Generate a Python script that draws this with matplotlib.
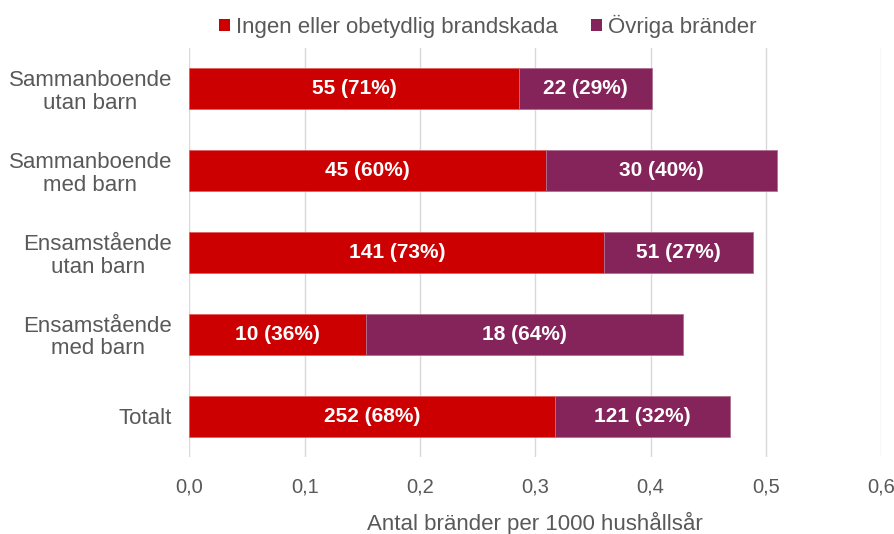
import matplotlib
matplotlib.use("Agg")
import matplotlib.pyplot as plt
from matplotlib.patches import Patch

categories = ["Sammanboende\nutan barn", "Sammanboende\nmed barn", "Ensamstående\nutan barn",
              "Ensamstående\nmed barn", "Totalt"]
minor_vals = [0.286, 0.309, 0.360, 0.153, 0.317]
other_vals = [0.115, 0.201, 0.129, 0.275, 0.152]
minor_labels = ["55 (71%)", "45 (60%)", "141 (73%)", "10 (36%)", "252 (68%)"]
other_labels = ["22 (29%)", "30 (40%)", "51 (27%)", "18 (64%)", "121 (32%)"]
series_names = ["Ingen eller obetydlig brandskada", "Övriga bränder"]
xticks = [0.0, 0.1, 0.2, 0.3, 0.4, 0.5, 0.6]
xlabel = "Antal bränder per 1000 hushållsår"

red = "#CC0000"
purple = "#85245A"
grey = "#595959"

plt.rcParams['font.family'] = ['Liberation Sans', 'DejaVu Sans']

fig = plt.figure(figsize=(8.95, 5.34), dpi=100)
ax = fig.add_axes([0.2117, 0.1442, 0.9844 - 0.2117, 0.9101 - 0.1442])

y = list(range(len(categories)))
b1 = ax.barh(y, minor_vals, height=0.5, color=red, edgecolor="#E06060", linewidth=0.6, zorder=3)
b2 = ax.barh(y, other_vals, left=minor_vals, height=0.5, color=purple, edgecolor="#B07090",
             linewidth=0.6, zorder=3)
ax.bar_label(b1, labels=minor_labels, label_type="center", color="white", fontsize=15, fontweight="bold")
ax.bar_label(b2, labels=other_labels, label_type="center", color="white", fontsize=15, fontweight="bold")

ax.set_ylim(len(categories) - 0.5, -0.5)
ax.set_xlim(0, 0.6)
ax.set_yticks(y)
ax.set_yticklabels(categories, fontsize=16, color=grey, linespacing=1.1, multialignment="center")
ax.set_xticks(xticks)
ax.set_xticklabels([f"{t:.1f}".replace(".", ",") for t in xticks], fontsize=14.5, color=grey)
ax.tick_params(axis="y", length=0, pad=12.5)
ax.tick_params(axis="x", length=0, pad=15)
ax.xaxis.grid(True, color="#D9D9D9", linewidth=1, zorder=0)
ax.set_axisbelow(True)
for s in ax.spines.values():
    s.set_visible(False)
ax.set_xlabel(xlabel, fontsize=16, color=grey, labelpad=11)

handles = [Patch(facecolor=red), Patch(facecolor=purple)]
fig.legend(handles, series_names, loc="center", bbox_to_anchor=(0.545, 0.951), ncol=2,
           frameon=False, fontsize=16, labelcolor=grey, handlelength=0.5, handleheight=0.5,
           handletextpad=0.25, columnspacing=1.5)

fig.savefig("out.png", dpi=100)
